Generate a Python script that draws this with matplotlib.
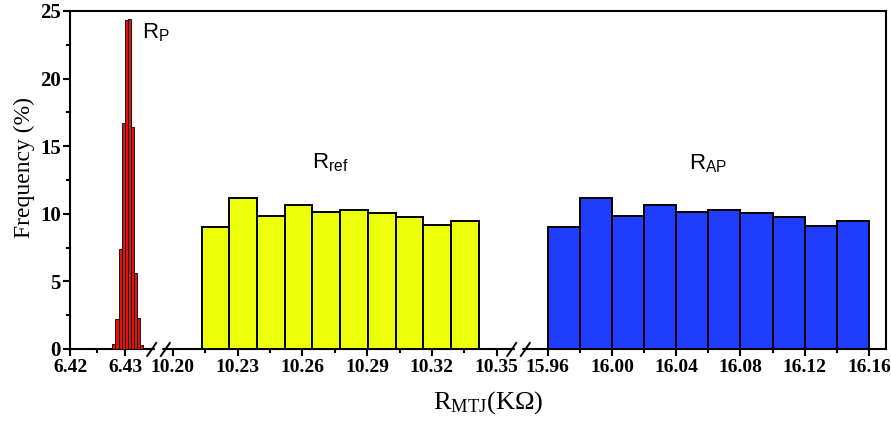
import numpy as np
import matplotlib
matplotlib.use("Agg")
import matplotlib.pyplot as plt
from matplotlib.path import Path
from matplotlib.ticker import FixedLocator

# ---------------- data ----------------
rp_bin_start = 6.42770
rp_bin_width = 0.000564
rp_freq = [0.35, 2.2, 7.4, 16.7, 24.3, 24.4, 16.4, 5.6, 2.3, 0.3]

rref_bin_start = 10.2134
rref_bin_width = 0.01282
rref_freq = [9.05, 11.15, 9.86, 10.68, 10.13, 10.28, 10.06, 9.76, 9.17, 9.44]

rap_bin_start = 15.96
rap_bin_width = 0.02
rap_freq = [9.05, 11.15, 9.86, 10.68, 10.15, 10.30, 10.06, 9.76, 9.13, 9.47]

seg1_ticks = [6.42, 6.43]
seg1_minor = [6.425]
seg2_ticks = [10.20, 10.23, 10.26, 10.29, 10.32, 10.35]
seg2_minor = [10.215, 10.245, 10.275, 10.305, 10.335]
seg3_ticks = [15.96, 16.00, 16.04, 16.08, 16.12, 16.16]
seg3_minor = [15.98, 16.02, 16.06, 16.10, 16.14]
seg_tick_labels = ["6.42", "6.43", "10.20", "10.23", "10.26", "10.29", "10.32",
                   "10.35", "15.96", "16.00", "16.04", "16.08", "16.12", "16.16"]

y_ticks = [0, 5, 10, 15, 20, 25]
y_minor = [2.5, 7.5, 12.5, 17.5, 22.5]

# broken-axis mapping (data value -> virtual position)
brk_data = [6.42, 6.43564, 10.1941, 10.35847, 15.94276, 16.1706]
brk_pos = [70, 156, 160, 515, 520, 886]

def fwd(x):
    return np.interp(x, brk_data, brk_pos)

def inv(p):
    return np.interp(p, brk_pos, brk_data)

# ---------------- figure ----------------
W, H = 891, 421
fig = plt.figure(figsize=(W / 100, H / 100), dpi=100)
ax = fig.add_axes([70 / W, (H - 349) / H, (886 - 70) / W, (349 - 11) / H])
ax.set_xscale("function", functions=(fwd, inv))

serif = "Liberation Serif"
sans = "Liberation Sans"

def edges(start, width, n):
    return start + width * np.arange(n)

ax.bar(edges(rp_bin_start, rp_bin_width, len(rp_freq)), rp_freq, width=rp_bin_width,
       align="edge", color="#E3110B", edgecolor="black", linewidth=0.6, zorder=3)
ax.bar(edges(rref_bin_start, rref_bin_width, len(rref_freq)), rref_freq, width=rref_bin_width,
       align="edge", color="#EEFF0A", edgecolor="black", linewidth=1.4, zorder=3)
ax.bar(edges(rap_bin_start, rap_bin_width, len(rap_freq)), rap_freq, width=rap_bin_width,
       align="edge", color="#1F3DFF", edgecolor="black", linewidth=1.4, zorder=3)

ax.set_xlim(brk_data[0], brk_data[-1])
ax.set_ylim(0, 25)

major = seg1_ticks + seg2_ticks + seg3_ticks
minor = seg1_minor + seg2_minor + seg3_minor
ax.xaxis.set_major_locator(FixedLocator(major))
ax.xaxis.set_minor_locator(FixedLocator(minor))
ax.set_xticklabels(seg_tick_labels)
ax.yaxis.set_major_locator(FixedLocator(y_ticks))
ax.yaxis.set_minor_locator(FixedLocator(y_minor))
ax.set_yticklabels([str(v) for v in y_ticks])

for sp in ax.spines.values():
    sp.set_linewidth(1.5)
ax.tick_params(axis="both", which="major", direction="out", length=5, width=1.5,
               pad=1.5)
ax.tick_params(axis="both", which="minor", direction="out", length=3, width=1.5)
ax.tick_params(axis="x", which="major", pad=2.5)
for lab in ax.get_xticklabels():
    lab.set_fontfamily(serif)
    lab.set_fontweight("bold")
    lab.set_fontsize(14)
for lab in ax.get_yticklabels():
    lab.set_fontfamily(serif)
    lab.set_fontweight("bold")
    lab.set_fontsize(15)

ax.set_xlabel(r"$\mathregular{R_{MTJ}}$(K$\mathregular{\Omega}$)", fontfamily=serif,
              fontsize=19)
ax.xaxis.set_label_coords(0.512, -0.118)
ax.set_ylabel("Frequency (%)", fontfamily=serif, fontsize=17)
ax.yaxis.set_label_coords(-0.043, 0.538)

# break marks on the x axis
brk_marker = Path([(-2.6, -1.6), (-0.4, 1.6), (0.4, -1.6), (2.6, 1.6)],
                  [Path.MOVETO, Path.LINETO, Path.MOVETO, Path.LINETO])
for a, b in [(brk_data[1], brk_data[2]), (brk_data[3], brk_data[4])]:
    xm = inv((fwd(a) + fwd(b)) / 2)
    ax.plot([xm], [0], marker="s", markersize=5, markerfacecolor="white",
            markeredgecolor="white", transform=ax.get_xaxis_transform(),
            clip_on=False, zorder=6)
    ax.plot([xm], [0], marker=brk_marker, markersize=17, markerfacecolor="none",
            markeredgecolor="black", markeredgewidth=1.4,
            transform=ax.get_xaxis_transform(), clip_on=False, zorder=7)

# annotations
ax.text(0.0879, 0.920, r"$\mathregular{R_{P}}$", transform=ax.transAxes,
        fontfamily=sans, fontsize=16, va="baseline", ha="left")
ax.text(0.296, 0.5355, r"$\mathregular{R_{ref}}$", transform=ax.transAxes,
        fontfamily=sans, fontsize=16, va="baseline", ha="left")
ax.text(0.7586, 0.5325, r"$\mathregular{R_{AP}}$", transform=ax.transAxes,
        fontfamily=sans, fontsize=16, va="baseline", ha="left")

fig.savefig("out.png", dpi=100)
